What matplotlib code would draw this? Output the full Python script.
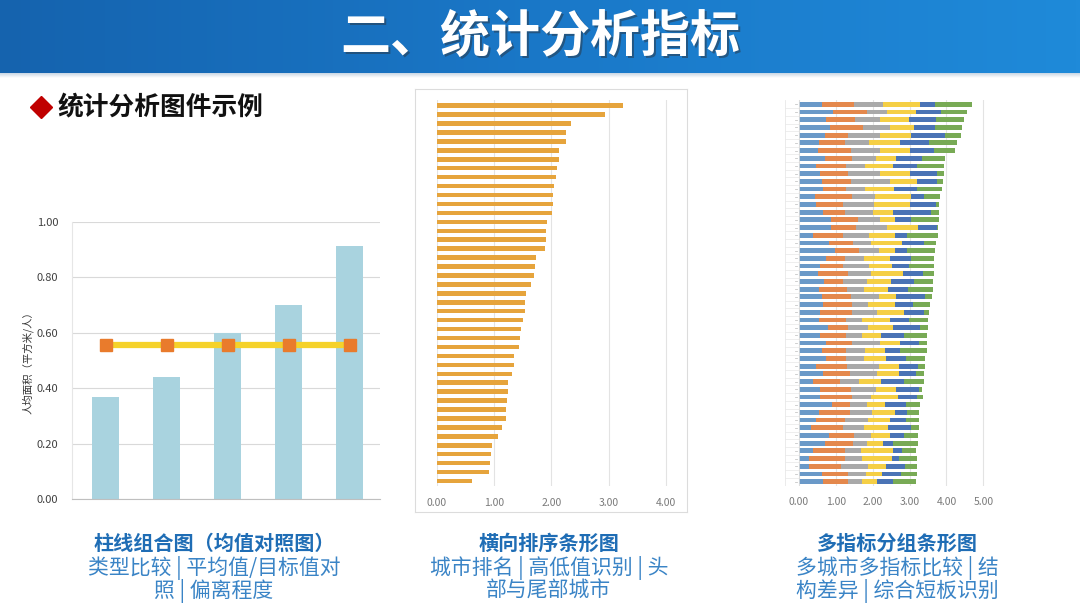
import numpy as np
import matplotlib.pyplot as plt
import matplotlib as mpl
from matplotlib.lines import Line2D

mpl.rcParams['font.family'] = ['Noto Sans CJK SC', 'DejaVu Sans']

# ---- data ----
title = "二、统计分析指标"
subtitle = "统计分析图件示例"

# left: column + mean line
col_values = [0.37, 0.44, 0.60, 0.70, 0.915]
mean_value = [0.555, 0.555, 0.555, 0.555, 0.555]
col_ylabel = "人均面积（平方米/人）"

# middle: sorted horizontal bars (top to bottom)
rank_values = [3.25, 2.93, 2.34, 2.26, 2.26, 2.13, 2.13, 2.10, 2.08, 2.05,
               2.03, 2.03, 2.01, 1.92, 1.91, 1.91, 1.89, 1.73, 1.71, 1.69,
               1.65, 1.56, 1.54, 1.53, 1.50, 1.47, 1.45, 1.43, 1.35, 1.34,
               1.32, 1.25, 1.25, 1.23, 1.21, 1.20, 1.14, 1.07, 0.97, 0.94,
               0.93, 0.91, 0.62]

# right: six indicators per city (top to bottom)
ind_a = [0.61, 0.92, 0.74, 0.85, 0.70, 0.54, 0.52, 0.70, 0.45, 0.58,
         0.61, 0.65, 0.43, 0.47, 0.65, 0.88, 0.88, 0.38, 0.81, 0.97,
         0.72, 0.56, 0.52, 0.67, 0.54, 0.63, 0.65, 0.58, 0.54, 0.79,
         0.58, 0.74, 0.63, 0.72, 0.45, 0.65, 0.38, 0.56, 0.56, 0.90,
         0.54, 0.45, 0.33, 0.81, 0.70, 0.38, 0.27, 0.27, 0.63, 0.65]
ind_b = [0.88, 0.92, 0.77, 0.89, 0.63, 0.70, 0.90, 0.75, 0.83, 0.75,
         0.81, 0.63, 1.00, 0.71, 0.59, 0.72, 0.66, 0.81, 0.65, 0.66,
         0.54, 0.63, 0.81, 0.52, 0.76, 0.79, 0.80, 0.87, 0.74, 0.54,
         0.69, 0.71, 0.65, 0.56, 0.85, 0.72, 0.74, 0.86, 0.89, 0.47,
         0.83, 0.81, 0.86, 0.67, 0.77, 0.86, 0.97, 0.88, 0.70, 0.68]
ind_c = [0.78, 0.55, 0.70, 0.72, 0.88, 0.66, 0.77, 0.65, 0.50, 0.88,
         1.04, 0.52, 0.62, 0.85, 0.77, 0.59, 0.85, 0.71, 0.50, 0.54,
         0.49, 0.71, 0.61, 0.65, 0.45, 0.75, 0.43, 0.67, 0.43, 0.54,
         0.43, 0.74, 0.50, 0.47, 0.87, 0.74, 0.52, 0.68, 0.49, 0.47,
         0.62, 0.61, 0.56, 0.48, 0.38, 0.45, 0.48, 0.72, 0.48, 0.39]
ind_d = [1.00, 0.79, 0.78, 0.66, 0.84, 0.85, 0.83, 0.52, 0.77, 0.80,
         0.75, 0.79, 0.99, 0.98, 0.54, 0.41, 0.84, 0.70, 0.84, 0.43,
         0.71, 0.61, 0.89, 0.66, 0.66, 0.47, 0.72, 0.72, 0.76, 0.68,
         0.52, 0.54, 0.54, 0.60, 0.54, 0.60, 0.59, 0.52, 0.75, 0.48,
         0.61, 0.59, 0.66, 0.50, 0.43, 0.86, 0.79, 0.48, 0.43, 0.40]
ind_e = [0.41, 0.66, 0.72, 0.56, 0.90, 0.77, 0.63, 0.72, 0.65, 0.72,
         0.52, 0.62, 0.34, 0.70, 1.02, 0.43, 0.50, 0.33, 0.58, 0.33,
         0.59, 0.48, 0.52, 0.63, 0.54, 0.77, 0.50, 0.54, 0.52, 0.72,
         0.63, 0.52, 0.43, 0.54, 0.52, 0.45, 0.61, 0.63, 0.50, 0.59,
         0.33, 0.45, 0.63, 0.38, 0.27, 0.25, 0.21, 0.52, 0.54, 0.43]
ind_f = [1.01, 0.72, 0.76, 0.75, 0.45, 0.77, 0.59, 0.63, 0.72, 0.20,
         0.18, 0.68, 0.45, 0.10, 0.22, 0.76, 0.05, 0.85, 0.34, 0.77,
         0.61, 0.67, 0.31, 0.50, 0.68, 0.21, 0.45, 0.14, 0.50, 0.23,
         0.63, 0.22, 0.71, 0.52, 0.18, 0.22, 0.54, 0.09, 0.16, 0.38,
         0.33, 0.34, 0.21, 0.40, 0.68, 0.38, 0.47, 0.32, 0.41, 0.62]

captions = [
    ("柱线组合图（均值对照图）", "类型比较 | 平均值/目标值对", "照 | 偏离程度", 214),
    ("横向排序条形图", "城市排名 | 高低值识别 | 头", "部与尾部城市", 549),
    ("多指标分组条形图", "多城市多指标比较 | 结", "构差异 | 综合短板识别", 897),
]

W, H = 1080, 608
fig = plt.figure(figsize=(W / 100, H / 100), dpi=100)
fig.patch.set_facecolor('white')


def fx(px):
    return px / W


def fy(py):
    return 1 - py / H


# ---- header band ----
band = fig.add_axes((0, fy(73), 1, 73 / H))
grad = np.linspace(0, 1, 256).reshape(1, -1)
cmap = mpl.colors.LinearSegmentedColormap.from_list('hdr', ['#1563ae', '#1a78c8', '#1f8ad9'])
band.imshow(grad, aspect='auto', cmap=cmap, extent=(0, 1, 0, 1))
band.axis('off')
shadow = fig.add_axes((0, fy(78), 1, 5 / H))
shadow.imshow(np.linspace(0, 1, 32).reshape(-1, 1), aspect='auto',
              cmap=mpl.colors.LinearSegmentedColormap.from_list('sh', ['#c9d6e4', '#ffffff']),
              extent=(0, 1, 0, 1))
shadow.axis('off')

fig.text(fx(542), fy(39), title, color='#2a3a4a', fontsize=36, fontweight='heavy',
         ha='center', va='center', alpha=0.55)
fig.text(fx(540), fy(37), title, color='white', fontsize=36, fontweight='heavy',
         ha='center', va='center')

# ---- subtitle ----
fig.add_artist(Line2D([fx(41)], [fy(107)], marker='D', markersize=11, color='#c00000',
                      transform=fig.transFigure))
fig.text(fx(57), fy(108), subtitle, color='#111111', fontsize=18.5, fontweight='heavy',
         ha='left', va='center')

# ---- left chart ----
ax1 = fig.add_axes((fx(72), fy(499), fx(308), 277 / H))
x = np.arange(len(col_values))
ax1.bar(x, col_values, width=0.43, color='#a9d3df', zorder=2)
ax1.plot(x, mean_value, color='#f5d22a', lw=4.5, zorder=3,
         marker='s', markersize=9, markerfacecolor='#e97b2c', markeredgecolor='#e97b2c')
ax1.set_xlim(-0.55, 4.5)
ax1.set_ylim(0, 1.0)
ax1.set_yticks(np.arange(0, 1.01, 0.2))
ax1.set_yticklabels([f"{v:.2f}" for v in np.arange(0, 1.01, 0.2)])
ax1.set_xticks([])
ax1.yaxis.grid(True, color='#d9d9d9', lw=0.8, zorder=0)
for s in ['top', 'right']:
    ax1.spines[s].set_visible(False)
ax1.spines['left'].set_color('#e6e6e6')
ax1.spines['bottom'].set_color('#bfbfbf')
ax1.tick_params(axis='y', length=0, labelsize=8, labelcolor='#404040', pad=10)
ax1.set_ylabel(col_ylabel, fontsize=7.5, color='#333333', labelpad=6)
ax1.yaxis.set_label_coords(-0.125, 0.5)

# ---- middle chart ----
frame = fig.add_axes((fx(415), fy(512), fx(272), 423 / H), zorder=0)
frame.set_xticks([])
frame.set_yticks([])
for s in frame.spines.values():
    s.set_color('#dcdcdc')
ax2 = fig.add_axes((fx(437), fy(486.4), fx(234.5), 386.1 / H), zorder=1)
ypos = np.arange(len(rank_values))
ax2.barh(ypos, rank_values, height=0.5, color='#e6a43c', zorder=2)
ax2.set_ylim(len(rank_values) - 0.4, -0.6)
ax2.set_xlim(0, 4.1)
ax2.set_xticks([0, 1, 2, 3, 4])
ax2.set_xticklabels(["0.00", "1.00", "2.00", "3.00", "4.00"])
ax2.set_yticks([])
ax2.xaxis.grid(True, color='#e3e3e3', lw=0.8, zorder=0)
for s in ax2.spines.values():
    s.set_visible(False)
ax2.tick_params(axis='x', length=0, labelsize=7.5, labelcolor='#7a7a7a', pad=8)
ax2.set_facecolor('none')

# ---- right chart ----
ax3 = fig.add_axes((fx(784.3), fy(486.3), fx(202.7), 386.6 / H))
series = [ind_a, ind_b, ind_c, ind_d, ind_e, ind_f]
colors = ['#6a99c8', '#e4884c', '#a9a9a9', '#f5cf45', '#4a73b5', '#78aa55']
rows = np.arange(len(ind_a))
left = np.zeros(len(ind_a))
for vals, c in zip(series, colors):
    ax3.barh(rows, vals, left=left, height=0.62, color=c, zorder=2)
    left += np.array(vals)
ax3.set_ylim(len(ind_a) - 0.4, -0.6)
ax3.set_xlim(-0.4, 5.1)
ax3.set_xticks([0, 1, 2, 3, 4, 5])
ax3.set_xticklabels(["0.00", "1.00", "2.00", "3.00", "4.00", "5.00"])
ax3.set_yticks([])
ax3.xaxis.grid(True, color='#e3e3e3', lw=0.8, zorder=0)
# faint label column on the left
for r in rows:
    ax3.plot([-0.38, 0], [r + 0.5, r + 0.5], color='#e8e8e8', lw=0.5, zorder=1)
    ax3.plot([-0.12, -0.06], [r, r], color='#c8c8c8', lw=0.6, zorder=1)
ax3.axvline(-0.38, color='#e8e8e8', lw=0.6)
ax3.axvline(0, color='#dcdcdc', lw=0.6)
for s in ax3.spines.values():
    s.set_visible(False)
ax3.tick_params(axis='x', length=0, labelsize=7.5, labelcolor='#7a7a7a', pad=8)

# ---- captions ----
for head, line1, line2, cx in captions:
    fig.text(fx(cx), fy(543), head, color='#1f6db5', fontsize=14.5, fontweight='bold',
             ha='center', va='center')
    fig.text(fx(cx), fy(568), line1, color='#3a84c6', fontsize=15,
             ha='center', va='center')
    fig.text(fx(cx), fy(591), line2, color='#3a84c6', fontsize=15,
             ha='center', va='center')

plt.savefig("out.png", dpi=100)
